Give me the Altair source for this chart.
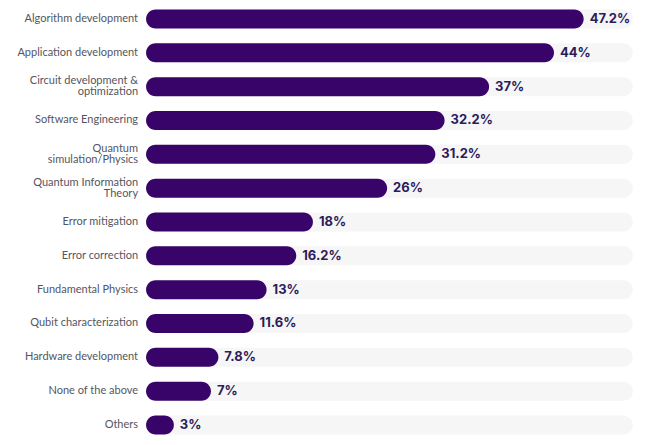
import altair as alt
import pandas as pd

categories = [
    "Algorithm development",
    "Application development",
    "Circuit development &\noptimization",
    "Software Engineering",
    "Quantum\nsimulation/Physics",
    "Quantum Information\nTheory",
    "Error mitigation",
    "Error correction",
    "Fundamental Physics",
    "Qubit characterization",
    "Hardware development",
    "None of the above",
    "Others",
]
values = [47.2, 44, 37, 32.2, 31.2, 26, 18, 16.2, 13, 11.6, 7.8, 7, 3]
value_labels = ["47.2%", "44%", "37%", "32.2%", "31.2%", "26%", "18%", "16.2%", "13%", "11.6%", "7.8%", "7%", "3%"]
track_max = 52.5

df = pd.DataFrame({
    "category": categories,
    "value": values,
    "label": value_labels,
    "idx": list(range(len(categories))),
    "zero": [0] * len(categories),
    "track": [track_max] * len(categories),
})
df["multi"] = df["category"].str.contains("\n")

xscale = alt.Scale(domain=[-14.89, 53.6], nice=False, zero=False, padding=0)
yscale = alt.Scale(domain=[-0.325, 12.355], nice=False, zero=False, reverse=True, padding=0)

base = alt.Chart(df).encode(
    y=alt.Y("idx:Q", scale=yscale, axis=None),
)

track = base.mark_bar(orient="horizontal", size=19, cornerRadius=9.5, color="#f6f6f7").encode(
    x=alt.X("zero:Q", scale=xscale, axis=None),
    x2="track:Q",
)

bars = base.mark_bar(orient="horizontal", size=19, cornerRadius=9.5, color="#39046a").encode(
    x=alt.X("zero:Q", scale=xscale, axis=None),
    x2="value:Q",
)

text_style = dict(align="right", baseline="middle", dx=-8, fontSize=11, font="Lato",
                  color="#55555f", lineBreak="\n", lineHeight=11)

cat_single = base.mark_text(**text_style).encode(
    x=alt.X("zero:Q", scale=xscale, axis=None),
    text="category:N",
).transform_filter("!datum.multi")

cat_multi = base.mark_text(dy=-5.5, **text_style).encode(
    x=alt.X("zero:Q", scale=xscale, axis=None),
    text="category:N",
).transform_filter("datum.multi")

val_text = base.mark_text(
    align="left", baseline="middle", dx=6, fontSize=13, font="Inter",
    fontWeight="bold", color="#2b1c5a",
).encode(
    x=alt.X("value:Q", scale=xscale, axis=None),
    text="label:N",
)

chart = alt.layer(track, bars, cat_single, cat_multi, val_text).properties(
    width=635, height=429, padding=0, background="white",
).configure_view(strokeWidth=0, stroke=None)

chart.save("out.html", embed_options={"renderer": "svg", "actions": False})
